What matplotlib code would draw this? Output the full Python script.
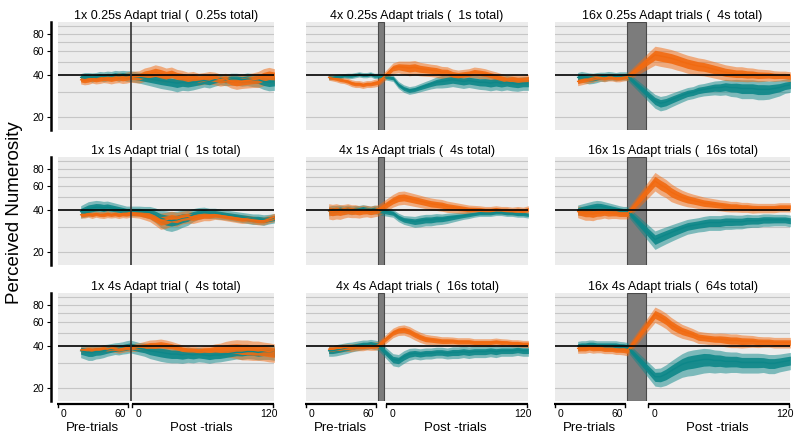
import numpy as np
import matplotlib
matplotlib.use('Agg')
import matplotlib.pyplot as plt

plt.rcParams['font.family'] = ['Liberation Sans', 'DejaVu Sans']

PRE_TRIALS = [18, 22, 26, 30, 34, 38, 42, 46, 50, 54, 58, 62, 66, 70]
POST_TRIALS = [0, 5, 10, 15, 20, 25, 30, 35, 40, 45, 50, 55, 60, 65, 70, 75,
               80, 85, 90, 95, 100, 105, 110, 115, 120, 125]

ROW_DURATIONS = ['0.25s', '1s', '4s']
COL_REPEATS = [1, 4, 16]

# ---- 1x adapt trial column (first 14 values = pre, rest = post) ----
orange_1x_025 = [37, 36.5, 37, 37.5, 37, 37.5, 38, 38, 37.5, 38, 38.5, 38, 38.5, 39,
                 39, 40.5, 41, 42, 41, 40, 41, 39.5, 39, 38, 38.5, 37.5, 38, 38.5, 38, 37,
                 37.5, 36, 35.5, 36, 36.5, 37, 37.5, 39, 40, 39.5]
orange_1x_025_se = [1.0, 1.0, 1.1, 1.0, 1.0, 1.1, 1.1, 1.2, 1.2, 1.2, 1.3, 1.3, 1.4, 1.4,
                    1.6, 1.8, 2.0, 2.2, 2.2, 2.0, 1.9, 1.8, 1.7, 1.6, 1.6, 1.5, 1.5, 1.6,
                    1.6, 1.5, 1.5, 1.5, 1.6, 1.6, 1.7, 1.8, 2.0, 2.2, 2.2, 2.0]
teal_1x_025 = [38.5, 39, 39, 38.5, 39, 39.5, 39, 39.5, 39.5, 40, 39.5, 40, 39.5, 39.5,
               38.5, 38, 37.5, 37, 36.5, 36, 35.5, 35, 35.5, 35, 35.5, 36, 36.5, 36, 37,
               37.5, 37, 37.5, 37.5, 37, 37.5, 37, 37, 36, 35.5, 36]
teal_1x_025_se = [1.0, 1.1, 1.1, 1.2, 1.1, 1.2, 1.3, 1.3, 1.2, 1.3, 1.4, 1.3, 1.4, 1.4,
                  1.4, 1.5, 1.6, 1.7, 1.8, 1.8, 1.8, 1.9, 1.8, 1.7, 1.7, 1.6, 1.5, 1.5,
                  1.5, 1.4, 1.4, 1.5, 1.5, 1.5, 1.6, 1.6, 1.7, 1.8, 1.9, 2.0]

orange_1x_1 = [37, 37, 37.5, 37, 37.5, 37, 37, 37.5, 37, 37.5, 37, 37.5, 37.5, 38,
               37.5, 37, 36.5, 35, 33.5, 34, 35, 34.5, 35.5, 36, 35.5, 36, 36.5, 36.5,
               37, 36.5, 36, 35.5, 35, 34.5, 34.5, 34, 33.5, 33.5, 34.5, 35.5]
orange_1x_1_se = [0.8, 0.8, 0.8, 0.9, 0.8, 0.8, 0.9, 0.9, 0.8, 0.9, 0.9, 0.9, 1.0, 1.0,
                  1.0, 1.2, 1.4, 1.6, 1.8, 1.8, 1.7, 1.6, 1.5, 1.5, 1.4, 1.3, 1.2, 1.2,
                  1.1, 1.0, 1.0, 1.0, 1.0, 1.0, 0.9, 0.9, 0.9, 0.9, 0.9, 1.0]
teal_1x_1 = [39, 40, 41, 41.5, 42, 42, 41.5, 42, 41.5, 41, 40.5, 40, 39.5, 39.5,
             39.5, 39, 38.5, 37, 35, 34, 33.5, 34, 35, 35.5, 37, 38, 38.5, 38, 38, 37.5,
             37, 36.5, 36, 35.5, 35, 34.5, 34.5, 34, 34.5, 35]
teal_1x_1_se = [1.6, 1.8, 2.0, 2.0, 2.0, 1.9, 1.9, 1.8, 1.7, 1.6, 1.5, 1.4, 1.3, 1.3,
                1.3, 1.4, 1.6, 1.8, 2.0, 2.2, 2.2, 2.1, 2.0, 1.8, 1.6, 1.5, 1.4, 1.3,
                1.3, 1.3, 1.2, 1.2, 1.2, 1.2, 1.2, 1.2, 1.2, 1.2, 1.1, 1.1]

orange_1x_4 = [37.5, 37.5, 38, 37.5, 38, 38, 38.5, 38, 38.5, 38.5, 38, 38.5, 39, 39,
               39.5, 40, 40.5, 40.5, 41, 40.5, 40, 39, 38, 37.5, 37.5, 37, 37.5, 37.5,
               38, 38, 38.5, 38.5, 38.5, 38, 38, 37.5, 37.5, 37, 36.5, 36]
orange_1x_4_se = [0.8, 0.8, 0.8, 0.9, 0.8, 0.9, 0.9, 0.9, 0.9, 1.0, 1.0, 1.0, 1.0, 1.0,
                  1.1, 1.3, 1.5, 1.6, 1.6, 1.5, 1.3, 1.2, 1.1, 1.0, 1.0, 1.0, 1.1, 1.2,
                  1.4, 1.6, 1.9, 2.2, 2.4, 2.5, 2.5, 2.4, 2.4, 2.3, 2.3, 2.2]
teal_1x_4 = [37, 36.5, 36, 36, 36.5, 36.5, 37, 37.5, 38, 38.5, 38.5, 39, 39.5, 40,
             38.5, 38, 37, 36.5, 36, 35.5, 35, 35, 34.5, 35, 34.5, 35, 34.5, 34, 34.5,
             34.5, 35, 35.5, 36, 36, 36.5, 36.5, 36, 36.5, 36.5, 36]
teal_1x_4_se = [1.6, 1.7, 1.8, 1.8, 1.7, 1.6, 1.6, 1.5, 1.5, 1.5, 1.6, 1.6, 1.7, 1.7,
                1.6, 1.7, 1.8, 1.9, 2.0, 2.0, 1.9, 1.9, 1.8, 1.8, 1.7, 1.7, 1.6, 1.6,
                1.6, 1.5, 1.5, 1.5, 1.5, 1.6, 1.6, 1.7, 1.7, 1.8, 1.8, 1.8]

# ---- 4x adapt trials column ----
orange_4x_025 = [38.5, 38, 37.5, 37, 36.5, 36, 35, 34.5, 34.5, 34, 34.5, 34.5, 35, 35.5,
                 45, 46, 45.5, 45, 45.5, 44.5, 44, 43.5, 43, 42, 42, 40.5, 40, 40.5, 41,
                 42, 41.5, 41, 40, 39, 38, 37, 37.5, 37, 37, 37.5]
orange_4x_025_se = [0.7, 0.7, 0.7, 0.8, 0.7, 0.8, 0.8, 0.8, 0.8, 0.8, 0.8, 0.8, 0.9, 0.9,
                    1.6, 1.8, 2.0, 2.2, 2.2, 2.0, 1.9, 1.8, 1.8, 1.7, 1.6, 1.5, 1.4, 1.4,
                    1.4, 1.5, 1.5, 1.4, 1.3, 1.3, 1.2, 1.2, 1.2, 1.2, 1.2, 1.2]
teal_4x_025 = [38.5, 38.5, 39, 39, 39.5, 39.5, 39.5, 40, 40.5, 40, 40, 40.5, 39.5, 39.5,
               38, 34, 32, 31, 31.5, 32.5, 33.5, 34.5, 35.5, 36, 36.5, 37, 36.5, 36,
               36.5, 36, 35.5, 35.5, 35, 35.5, 35, 35.5, 35, 34.5, 35, 35]
teal_4x_025_se = [0.6, 0.6, 0.6, 0.7, 0.6, 0.7, 0.7, 0.7, 0.7, 0.7, 0.7, 0.7, 0.7, 0.7,
                  0.8, 0.8, 0.8, 0.8, 0.8, 0.9, 1.0, 1.1, 1.3, 1.5, 1.6, 1.6, 1.6, 1.6,
                  1.6, 1.6, 1.6, 1.7, 1.7, 1.7, 1.7, 1.7, 1.7, 1.6, 1.6, 1.6]

orange_4x_1 = [39.5, 39, 39.5, 39, 39.5, 40, 39.5, 39.5, 39, 39.5, 39.5, 39, 39.5, 40,
               47, 49, 49.5, 48.5, 47.5, 46.5, 45.5, 44.5, 44, 43.5, 42.5, 42, 41.5, 41,
               40.5, 40.5, 40.5, 40, 40, 40.5, 40, 40, 39.5, 40, 39.5, 40.5]
orange_4x_1_se = [2.0, 2.0, 2.0, 1.9, 1.8, 1.8, 1.7, 1.7, 1.6, 1.6, 1.5, 1.5, 1.5, 1.5,
                  2.0, 2.2, 2.2, 2.1, 2.0, 1.9, 1.8, 1.8, 1.7, 1.7, 1.6, 1.5, 1.4, 1.3,
                  1.2, 1.1, 1.0, 1.0, 1.0, 1.0, 1.0, 1.0, 1.0, 1.0, 1.0, 1.0]
teal_4x_1 = [39.5, 40, 40, 40.5, 40, 40.5, 40, 40.5, 40.5, 41, 40.5, 40, 40.5, 40,
             38, 35.5, 34, 33.5, 33, 33.5, 34, 34, 34.5, 34.5, 35, 35.5, 36, 36.5, 37,
             37.5, 38, 38, 38, 38.5, 38.5, 38, 38, 37.5, 37.5, 37]
teal_4x_1_se = [1.3, 1.3, 1.3, 1.2, 1.2, 1.2, 1.2, 1.1, 1.1, 1.1, 1.1, 1.1, 1.2, 1.2,
                1.0, 1.0, 1.0, 1.1, 1.2, 1.3, 1.3, 1.3, 1.3, 1.2, 1.2, 1.1, 1.0, 0.9,
                0.9, 0.8, 0.8, 0.8, 0.8, 0.8, 0.8, 0.8, 0.8, 0.8, 0.8, 0.8]

orange_4x_4 = [38, 38, 38.5, 38.5, 39, 39, 39, 39.5, 39.5, 39.5, 40, 40, 40, 40.5,
               50, 52, 52.5, 51, 48.5, 46.5, 45, 44.5, 44, 43.5, 43.5, 43.5, 43, 43, 43,
               42.5, 42.5, 42.5, 42.5, 43, 42.5, 42.5, 42, 42, 41.5, 41.5]
orange_4x_4_se = [1.0, 1.0, 1.0, 1.0, 1.0, 1.0, 1.0, 1.0, 1.0, 1.0, 1.0, 1.1, 1.1, 1.1,
                  1.6, 1.7, 1.8, 1.8, 1.7, 1.6, 1.5, 1.4, 1.4, 1.3, 1.3, 1.2, 1.2, 1.2,
                  1.2, 1.1, 1.1, 1.1, 1.1, 1.1, 1.1, 1.0, 1.0, 1.0, 1.0, 1.0]
teal_4x_4 = [37, 37, 37.5, 38, 38.5, 39, 39.5, 40, 40.5, 41, 41, 41.5, 41, 40.5,
             32, 31.5, 33.5, 35, 35.5, 35, 35.5, 35.5, 36, 36, 35.5, 36, 36, 36.5, 36,
             36.5, 36.5, 36.5, 37, 36.5, 37, 37, 37, 37.5, 37, 37]
teal_4x_4_se = [1.3, 1.3, 1.4, 1.4, 1.4, 1.4, 1.3, 1.3, 1.3, 1.3, 1.3, 1.3, 1.3, 1.3,
                1.3, 1.3, 1.4, 1.4, 1.3, 1.3, 1.3, 1.3, 1.3, 1.3, 1.3, 1.4, 1.4, 1.4,
                1.4, 1.4, 1.4, 1.4, 1.4, 1.4, 1.3, 1.3, 1.3, 1.3, 1.3, 1.3]

# ---- 16x adapt trials column ----
orange_16x_025 = [36, 36.5, 37, 37.5, 38, 38.5, 38.5, 38, 38.5, 38.5, 38, 38, 38.5, 39,
                  56, 55, 54, 53, 51.5, 50, 48.5, 47.5, 46.5, 46, 45, 44, 43, 42, 41.5,
                  41, 41, 40.5, 40.5, 40, 40, 40, 39.5, 39.5, 39.5, 39]
orange_16x_025_se = [1.0, 1.0, 1.0, 1.0, 1.0, 0.9, 0.9, 0.9, 0.9, 0.9, 0.9, 0.9, 0.9, 1.0,
                     3.5, 3.5, 3.4, 3.3, 3.2, 3.0, 2.9, 2.8, 2.7, 2.6, 2.5, 2.4, 2.3, 2.2,
                     2.1, 2.0, 2.0, 1.9, 1.8, 1.7, 1.6, 1.5, 1.4, 1.3, 1.3, 1.3]
teal_16x_025 = [38.5, 39, 38.5, 38, 38, 38.5, 39, 39, 39.5, 39.5, 39, 39.5, 39.5, 39.5,
                26, 25, 25.5, 26.5, 27.5, 28.5, 29.5, 30, 31, 31.5, 32, 32.5, 32.5, 33,
                32.5, 32.5, 32, 32, 32, 31.5, 31.5, 31.5, 32, 32.5, 33.5, 34]
teal_16x_025_se = [1.3, 1.4, 1.4, 1.4, 1.3, 1.3, 1.2, 1.2, 1.2, 1.1, 1.1, 1.1, 1.1, 1.1,
                   1.2, 1.2, 1.2, 1.2, 1.2, 1.2, 1.2, 1.2, 1.3, 1.3, 1.4, 1.5, 1.6, 1.7,
                   1.8, 1.9, 2.0, 2.0, 2.0, 2.0, 2.0, 1.9, 1.8, 1.7, 1.6, 1.6]

orange_16x_1 = [39, 38.5, 38, 38, 37.5, 38, 38, 38.5, 38, 38, 38, 37.5, 37.5, 37.5,
                65, 61, 58, 54, 51.5, 49.5, 48, 47, 46, 45, 44.5, 44, 43.5, 43, 42.5,
                42.5, 42, 42, 41.5, 41.5, 41.5, 41.5, 41.5, 42, 42, 42]
orange_16x_1_se = [1.5, 1.6, 1.7, 1.7, 1.6, 1.5, 1.4, 1.4, 1.4, 1.3, 1.3, 1.2, 1.2, 1.2,
                   4.0, 3.8, 3.5, 3.2, 2.8, 2.5, 2.3, 2.1, 2.0, 1.9, 1.8, 1.7, 1.6, 1.6,
                   1.5, 1.5, 1.4, 1.4, 1.4, 1.3, 1.3, 1.3, 1.3, 1.3, 1.3, 1.3]
teal_16x_1 = [40, 40.5, 41, 41.5, 42, 42.5, 42.5, 42, 41.5, 41, 40.5, 40, 39.5, 39.5,
              24.5, 25.5, 26.5, 27.5, 28.5, 29.5, 30.5, 31, 31.5, 32, 32.5, 32.5, 32.5,
              33, 33, 33, 33, 33.5, 33.5, 33.5, 34, 34, 34, 34, 34, 33.5]
teal_16x_1_se = [1.4, 1.5, 1.6, 1.7, 1.8, 1.8, 1.7, 1.6, 1.5, 1.4, 1.3, 1.2, 1.2, 1.2,
                 1.5, 1.5, 1.5, 1.5, 1.5, 1.5, 1.5, 1.5, 1.5, 1.6, 1.6, 1.6, 1.6, 1.6,
                 1.6, 1.5, 1.5, 1.5, 1.4, 1.4, 1.4, 1.4, 1.3, 1.3, 1.3, 1.3]

orange_16x_4 = [38.5, 38.5, 38.5, 39, 38.5, 38.5, 38.5, 38, 38, 38, 37.5, 37.5, 37.5, 37,
                68, 65, 61.5, 57, 54, 51.5, 50, 48.5, 46.5, 46, 45.5, 45, 45, 44.5, 44,
                44, 43.5, 43.5, 43.5, 43, 43, 43, 42.5, 42.5, 42.5, 42.5]
orange_16x_4_se = [1.2, 1.2, 1.2, 1.2, 1.2, 1.1, 1.1, 1.1, 1.1, 1.1, 1.1, 1.1, 1.2, 1.2,
                   3.5, 3.4, 3.2, 3.0, 2.7, 2.4, 2.2, 2.0, 1.9, 1.8, 1.8, 1.8, 1.9, 2.0,
                   2.0, 2.0, 1.9, 1.8, 1.7, 1.6, 1.5, 1.5, 1.5, 1.5, 1.5, 1.5]
teal_16x_4 = [40, 40.5, 40.5, 41, 41, 40.5, 40.5, 40.5, 40.5, 40.5, 40.5, 40, 40, 39.5,
              24, 24, 25, 26.5, 28, 29.5, 30.5, 31, 31.5, 32, 32, 31.5, 31.5, 31, 31,
              31, 30.5, 30.5, 30.5, 30.5, 30.5, 30, 30, 30.5, 31, 31.5]
teal_16x_4_se = [1.3, 1.3, 1.3, 1.3, 1.3, 1.3, 1.3, 1.3, 1.3, 1.3, 1.3, 1.3, 1.2, 1.2,
                 1.4, 1.5, 1.7, 1.9, 2.1, 2.3, 2.5, 2.6, 2.6, 2.6, 2.5, 2.4, 2.3, 2.2,
                 2.1, 2.1, 2.0, 2.0, 2.0, 2.0, 1.9, 1.9, 1.9, 1.8, 1.8, 1.8]

ORANGE = '#f26a10'
TEAL = '#0d8789'

# panel table built from the named lists: (row, col) -> (orange, orange_se, teal, teal_se)
PANELS = {
    (0, 0): (orange_1x_025, orange_1x_025_se, teal_1x_025, teal_1x_025_se),
    (1, 0): (orange_1x_1, orange_1x_1_se, teal_1x_1, teal_1x_1_se),
    (2, 0): (orange_1x_4, orange_1x_4_se, teal_1x_4, teal_1x_4_se),
    (0, 1): (orange_4x_025, orange_4x_025_se, teal_4x_025, teal_4x_025_se),
    (1, 1): (orange_4x_1, orange_4x_1_se, teal_4x_1, teal_4x_1_se),
    (2, 1): (orange_4x_4, orange_4x_4_se, teal_4x_4, teal_4x_4_se),
    (0, 2): (orange_16x_025, orange_16x_025_se, teal_16x_025, teal_16x_025_se),
    (1, 2): (orange_16x_1, orange_16x_1_se, teal_16x_1, teal_16x_1_se),
    (2, 2): (orange_16x_4, orange_16x_4_se, teal_16x_4, teal_16x_4_se),
}

# layout in pixels
W, H = 800, 443
COL_LEFT = [58, 306, 555]
ROW_TOP = [22, 157, 293]
PANEL_H = 108
BAR_W = [0, 6, 19]          # width of the adaptation block per column
BAR_START = 72
PRE0, PRE_SCALE = 5.5, 0.953
POST_SCALE = 1.083


def make_title(row, col):
    n = COL_REPEATS[col]
    dur = ROW_DURATIONS[row]
    secs = n * float(dur[:-1])
    total = ('%g' % secs) + 's'
    word = 'trial' if n == 1 else 'trials'
    return f'{n}x {dur} Adapt {word} (  {total} total)'


def draw_band(ax, x, mean, se, color):
    mean = np.array(mean)
    se = np.array(se)
    # light outer band, darker inner band, mean on top
    ax.fill_between(x, mean - 2.5 * se, mean + 2.5 * se, color=color, alpha=0.5,
                    lw=0, zorder=3)
    ax.fill_between(x, mean - 1.3 * se, mean + 1.3 * se, color=color, alpha=0.9,
                    lw=0, zorder=3.5)
    ax.plot(x, mean, color=color, lw=1.0, zorder=4)


fig = plt.figure(figsize=(W / 100, H / 100), dpi=100)

for (row, col), (o_m, o_se, t_m, t_se) in PANELS.items():
    bw = BAR_W[col]
    post0 = BAR_START + bw + 9
    width = post0 + 135
    left, top = COL_LEFT[col], ROW_TOP[row]
    ax = fig.add_axes([left / W, 1 - (top + PANEL_H) / H, width / W, PANEL_H / H])
    ax.set_facecolor('#ececec')
    ax.set_yscale('log')
    ax.set_xlim(0, width)
    ax.set_ylim(16, 97)

    for v in [20, 30, 50, 60, 70, 80, 90]:
        ax.axhline(v, color='#c6c6c6', lw=0.8, zorder=0.5)
    ax.axhline(40, color='black', lw=1.2, zorder=5)

    # adaptation marker: line for a single trial, grey block otherwise
    if bw == 0:
        ax.axvline(BAR_START + 0.7, color='#333333', lw=1.2, zorder=6)
    else:
        ax.axvspan(BAR_START, BAR_START + bw, facecolor='#7c7c7c',
                   edgecolor='#4a4a4a', lw=0.8, zorder=2)

    x = np.concatenate([PRE0 + PRE_SCALE * np.array(PRE_TRIALS),
                        post0 + POST_SCALE * np.array(POST_TRIALS)])
    draw_band(ax, x, t_m, t_se, TEAL)
    draw_band(ax, x, o_m, o_se, ORANGE)

    for s in ['top', 'right', 'bottom']:
        ax.spines[s].set_visible(False)
    ax.set_xticks([])
    ax.yaxis.set_minor_locator(plt.NullLocator())

    if col == 0:
        ax.spines['left'].set_position(('outward', 5))
        ax.spines['left'].set_linewidth(1.8)
        ax.set_yticks([20, 40, 60, 80])
        ax.set_yticklabels(['20', '40', '60', '80'])
        ax.tick_params(axis='y', length=3, width=0.8, labelsize=7.5, pad=2)
    else:
        ax.spines['left'].set_visible(False)
        ax.set_yticks([])

    ax.set_title(make_title(row, col), fontsize=9, pad=2.5)

    # split x axis (pre / post) below the bottom row
    if row == 2:
        tr = ax.get_xaxis_transform()
        y0 = -3 / PANEL_H
        cap = -6 / PANEL_H
        for a, b in [(-1, 71), (BAR_START + bw + 1.5, width)]:
            ax.plot([a, b], [y0, y0], color='black', lw=1.6, transform=tr,
                    clip_on=False, solid_capstyle='butt')
            ax.plot([a + 0.6, a + 0.6], [y0, cap], color='black', lw=1.0,
                    transform=tr, clip_on=False)
            ax.plot([b - 0.6, b - 0.6], [y0, cap], color='black', lw=1.0,
                    transform=tr, clip_on=False)
        ticks = [(PRE0, '0'), (PRE0 + PRE_SCALE * 60, '60'),
                 (post0, '0'), (post0 + POST_SCALE * 120, '120')]
        for xt, lab in ticks:
            ax.text(xt, -13 / PANEL_H, lab, transform=tr, ha='center',
                    va='center', fontsize=7.5)
        ax.text(34, -27 / PANEL_H, 'Pre-trials', transform=tr, ha='center',
                va='center', fontsize=9.5)
        ax.text(post0 + 62, -27 / PANEL_H, 'Post -trials', transform=tr,
                ha='center', va='center', fontsize=9.5)

fig.text(15 / W, 1 - 213 / H, 'Perceived Numerosity', rotation=90,
         ha='center', va='center', fontsize=13.5)

fig.savefig('out.png', dpi=100)
